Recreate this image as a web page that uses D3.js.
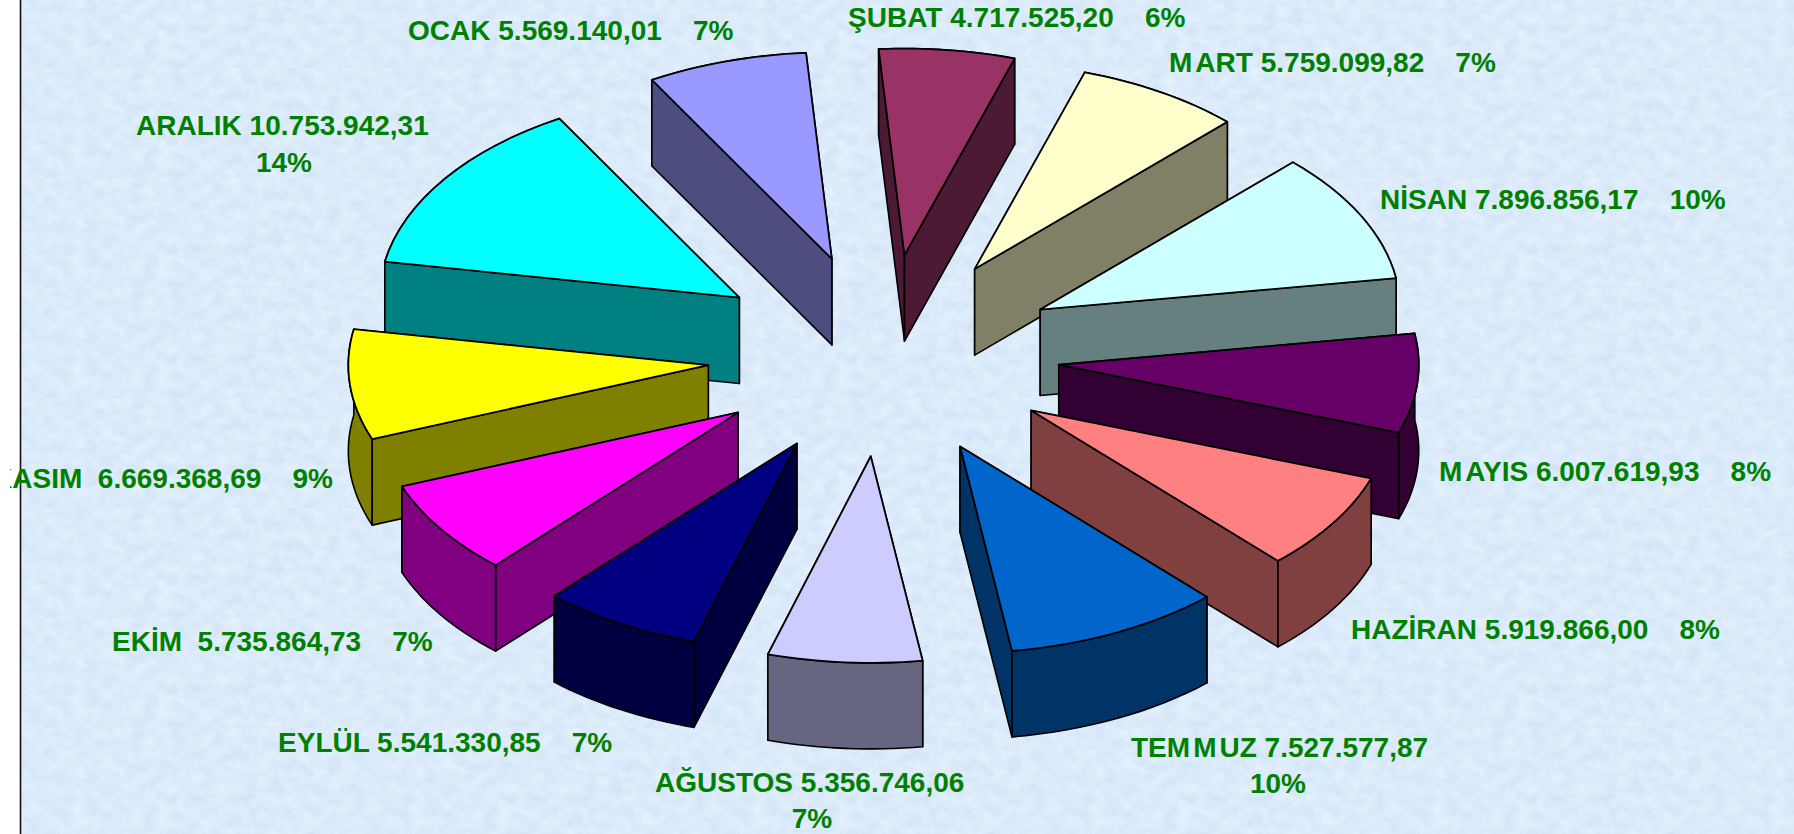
<!DOCTYPE html>
<html>
<head>
<meta charset="utf-8">
<script src="https://cdn.jsdelivr.net/npm/d3@7"></script>
<style>
  html, body { margin: 0; padding: 0; background: #fff; overflow: hidden; }
  text { font-family: "Liberation Sans", Arial, sans-serif; font-weight: bold; fill: #008000; white-space: pre; }
</style>
</head>
<body>
<div class="chart"></div>
<script>
// chart data
var months = ["OCAK", "ŞUBAT", "MART", "NİSAN", "MAYIS", "HAZİRAN", "TEMMUZ", "AĞUSTOS", "EYLÜL", "EKİM", "KASIM", "ARALIK"];
var amounts = [5569140.01, 4717525.20, 5759099.82, 7896856.17, 6007619.93, 5919866.00, 7527577.87, 5356746.06, 5541330.85, 5735864.73, 6669368.69, 10753942.31];
var colors = ["#9999ff", "#993366", "#ffffcc", "#ccffff", "#660066", "#ff8080", "#0066cc", "#ccccff", "#000080", "#ff00ff", "#ffff00", "#00ffff"];

// label text: separator between name and amount, and whether the percent wraps
var nameGap = [" ", " ", " ", " ", " ", " ", " ", " ", " ", "  ", "  ", " "];
var wrapped = [false, false, false, false, false, false, true, true, false, false, false, true];

// label placement [left x, baseline y], second line [center x, baseline y]
var labelPos = [[408, 40], [848, 27], [1169, 72], [1380, 209], [1439, 481], [1351, 639], [1131, 757], [655, 792], [278, 752], [112, 651], [-8, 488], [136, 135]];
var secondLine = {6: [1278, 793], 7: [812, 828], 11: [284, 172]};

var svgWidth = 1794;
var svgHeight = 834;

// pie geometry, measured on the reference
var center = {x: 883.5, y: 355.5};
var radius = 360;
var squash = 0.574;
var depth = 86;
var explode = 176;

var svg = d3.select(".chart")
  .append("svg")
  .attr("width", svgWidth)
  .attr("height", svgHeight)
  .style("display", "block");

var defs = svg.append("defs");

// mottled paper texture, tiled like the original background image
var filter = defs.append("filter")
  .attr("id", "paper")
  .attr("x", 0).attr("y", 0).attr("width", 1).attr("height", 1)
  .attr("color-interpolation-filters", "sRGB");
filter.append("feTurbulence")
  .attr("type", "fractalNoise")
  .attr("baseFrequency", "0.07 0.09")
  .attr("numOctaves", 5)
  .attr("seed", 7);
filter.append("feColorMatrix")
  .attr("values", "0.10 0.03 0 0 0.795  0.08 0 0.01 0 0.875  0.05 0 0 0 0.955  0 0 0 0 1");

var pattern = defs.append("pattern")
  .attr("id", "tile")
  .attr("patternUnits", "userSpaceOnUse")
  .attr("x", 0).attr("y", -42)
  .attr("width", 340).attr("height", 110);
pattern.append("rect")
  .attr("width", 340).attr("height", 110)
  .attr("filter", "url(#paper)");

defs.append("clipPath").attr("id", "textClip")
  .append("rect")
  .attr("x", 10).attr("y", 0)
  .attr("width", svgWidth - 10).attr("height", svgHeight);

svg.append("rect")
  .attr("x", 20).attr("y", 0)
  .attr("width", svgWidth - 20).attr("height", svgHeight)
  .attr("fill", "url(#tile)");

svg.append("line")
  .attr("x1", 20.5).attr("x2", 20.5)
  .attr("y1", 0).attr("y2", svgHeight)
  .attr("stroke", "#111")
  .attr("stroke-width", 1.6);

// unit circle to screen
var xScale = d3.scaleLinear().domain([-1, 1]).range([center.x - radius, center.x + radius]);
var yScale = d3.scaleLinear().domain([-1, 1]).range([center.y + radius * squash, center.y - radius * squash]);

var pie = d3.pie()
  .sort(null)
  .startAngle(-30 * Math.PI / 180)
  .endAngle(330 * Math.PI / 180);

var slices = pie(amounts);

var line = d3.line();

function shiftOf(d) {
  var mid = (d.startAngle + d.endAngle) / 2;
  return [xScale(Math.sin(mid) * explode / radius) - center.x,
          yScale(Math.cos(mid) * explode / radius) - center.y];
}

function pointAt(angle, shift) {
  return [xScale(Math.sin(angle)) + shift[0], yScale(Math.cos(angle)) + shift[1]];
}

function drop(p) {
  return [p[0], p[1] + depth];
}

function arcPoints(d, shift) {
  return d3.range(0, 17).map(function (i) {
    return pointAt(d.startAngle + (d.endAngle - d.startAngle) * i / 16, shift);
  });
}

// draw from the back of the pie to the front
var ordered = slices.slice().sort(function (a, b) {
  return Math.cos((b.startAngle + b.endAngle) / 2) - Math.cos((a.startAngle + a.endAngle) / 2);
});

var sliceGroups = svg.append("g")
  .selectAll("g")
  .data(ordered)
  .enter()
  .append("g");

sliceGroups.each(function (d) {
  var g = d3.select(this);
  var shift = shiftOf(d);
  var apex = [center.x + shift[0], center.y + shift[1]];
  var arc = arcPoints(d, shift);
  var top = [apex].concat(arc);
  var sideColor = d3.rgb(colors[d.index]);
  sideColor = d3.rgb(sideColor.r / 2, sideColor.g / 2, sideColor.b / 2);

  var walls = [
    [apex, arc[0], drop(arc[0]), drop(apex)],
    [apex, arc[arc.length - 1], drop(arc[arc.length - 1]), drop(apex)],
    arc.concat(arc.slice().reverse().map(drop))
  ];

  walls.sort(function (a, b) {
    return d3.mean(a, p => p[1]) - d3.mean(b, p => p[1]);
  });

  walls.forEach(function (wall) {
    g.append("path")
      .attr("d", line(wall) + "Z")
      .attr("fill", sideColor)
      .attr("stroke", "#000")
      .attr("stroke-width", 1.6)
      .attr("stroke-linejoin", "round");
  });

  g.append("path")
    .attr("d", line(top) + "Z")
    .attr("fill", colors[d.index])
    .attr("stroke", "#000")
    .attr("stroke-width", 1.8)
    .attr("stroke-linejoin", "round");
});

// labels, amounts in Turkish number format
var tr = d3.formatLocale({decimal: ",", thousands: ".", grouping: [3], currency: ["", ""]});
var amountFormat = tr.format(",.2f");
var percentFormat = d3.format(".0%");
var total = d3.sum(amounts);

var labels = svg.append("g")
  .attr("clip-path", "url(#textClip)")
  .attr("font-size", 28);

// the original renders a wider gap after each M
function gapAfterM(str) {
  return Array.from(str).map(function (c, i, all) {
    return i > 0 && all[i - 1] === "M" && c !== " " ? 3 : 0;
  }).join(" ");
}

months.forEach(function (name, i) {
  var head = name + nameGap[i] + amountFormat(amounts[i]);
  var pct = percentFormat(amounts[i] / total);
  var label = wrapped[i] ? head : head + "    " + pct;
  labels.append("text")
    .attr("x", labelPos[i][0])
    .attr("y", labelPos[i][1])
    .attr("dx", gapAfterM(label))
    .attr("xml:space", "preserve")
    .text(label);
  if (wrapped[i]) {
    labels.append("text")
      .attr("x", secondLine[i][0])
      .attr("y", secondLine[i][1])
      .attr("text-anchor", "middle")
      .text(pct);
  }
});
</script>
</body>
</html>
